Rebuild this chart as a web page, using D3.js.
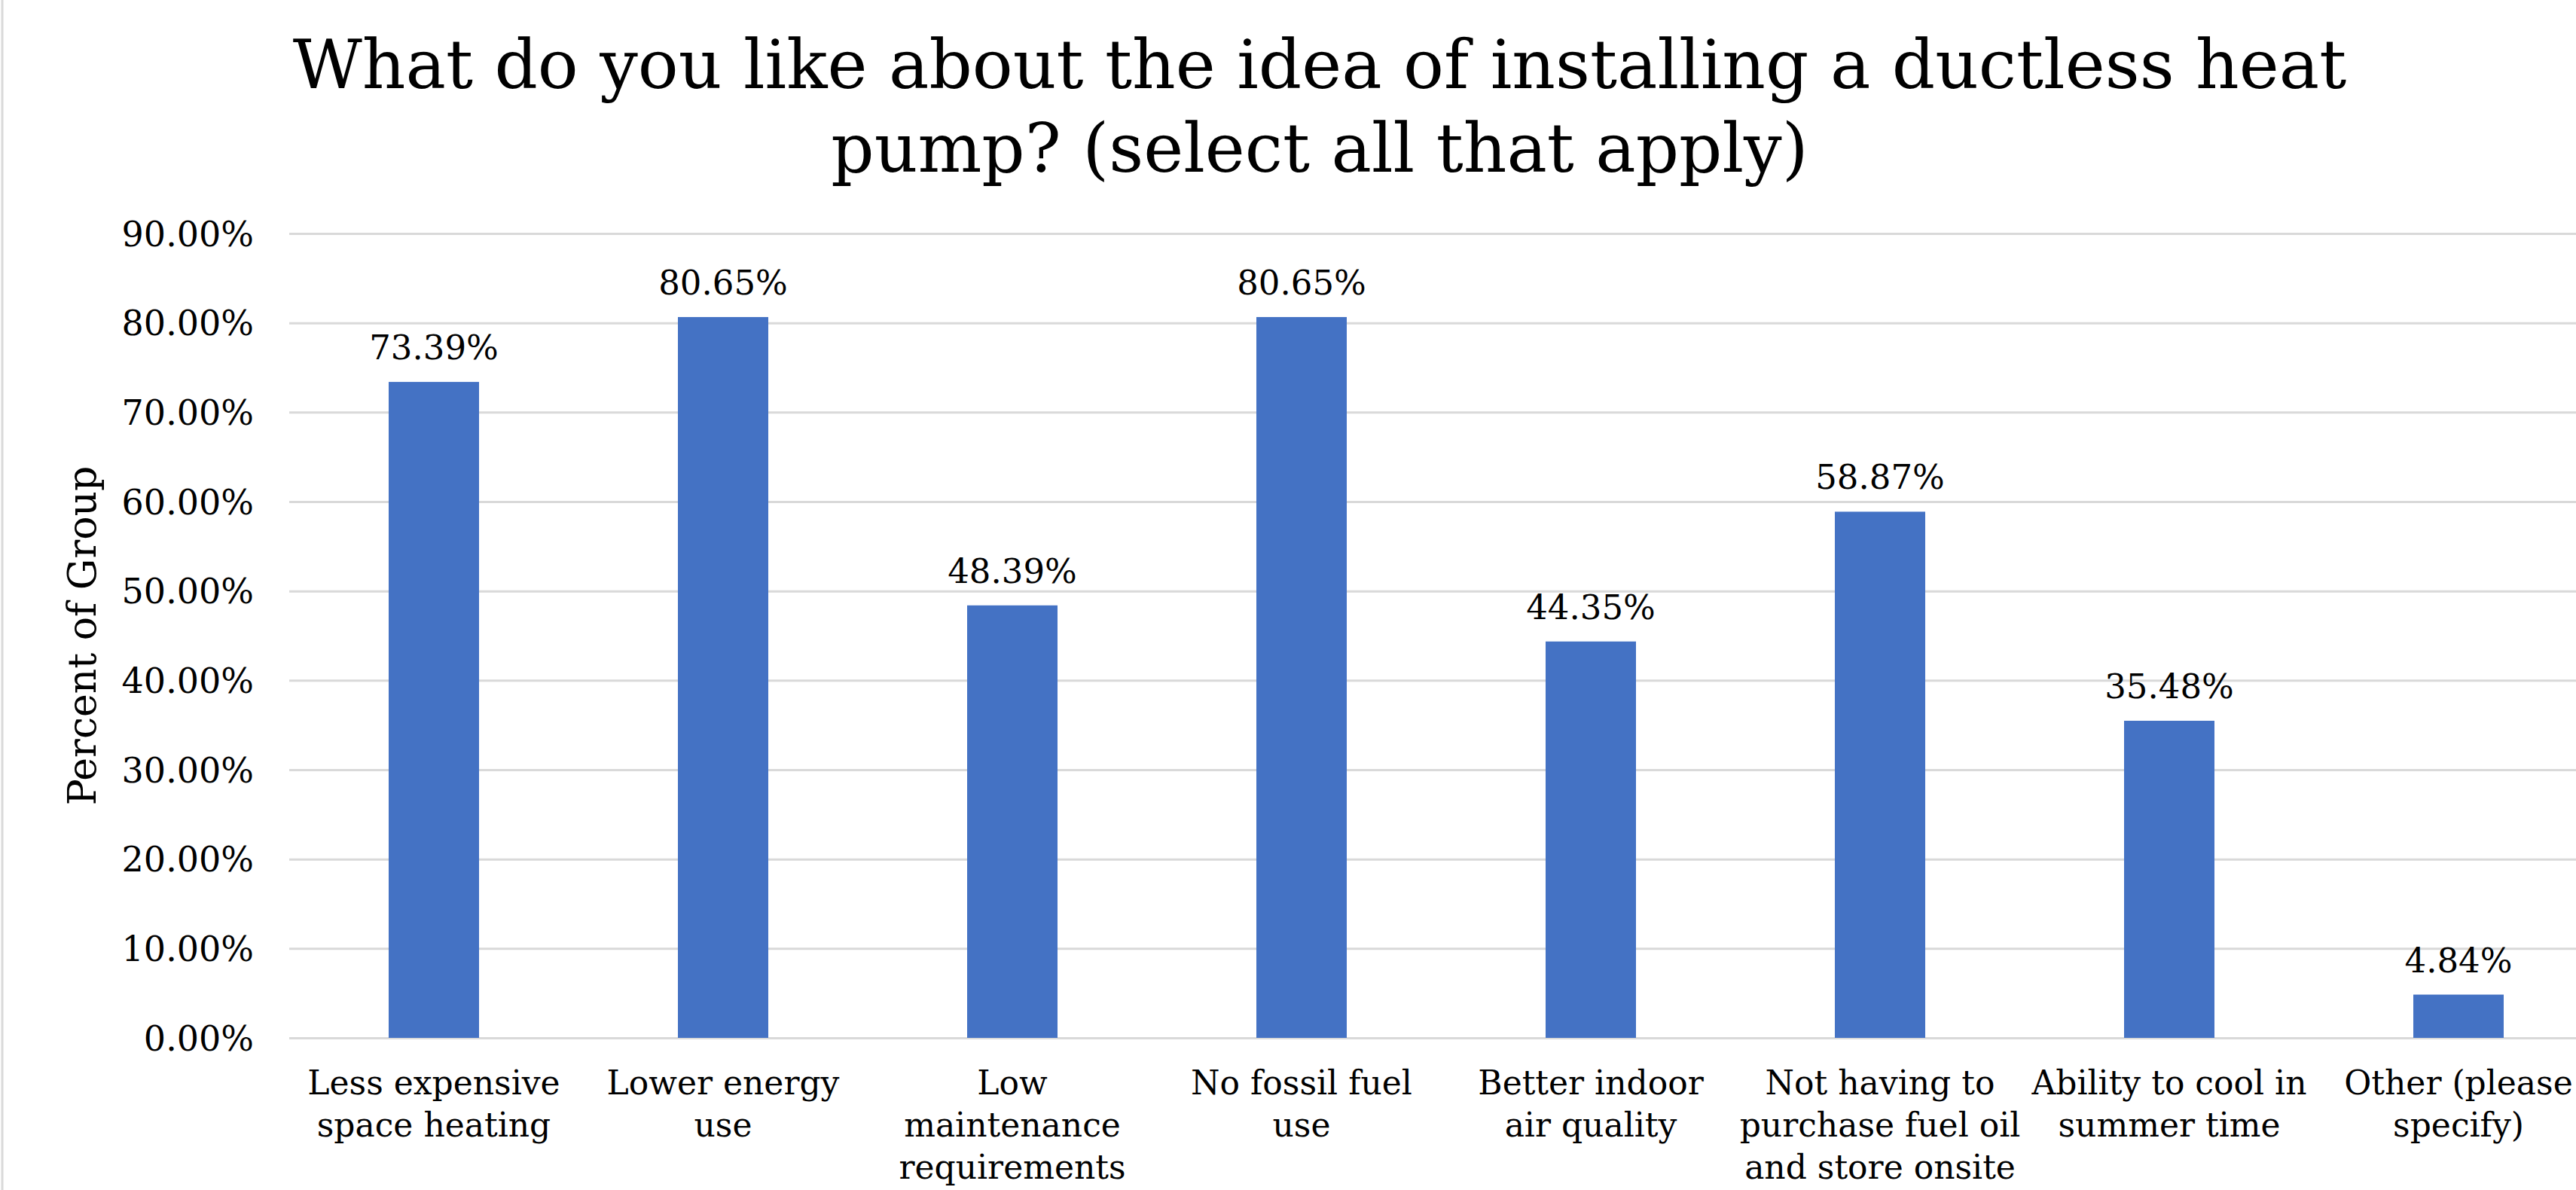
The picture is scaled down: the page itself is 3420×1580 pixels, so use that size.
<!DOCTYPE html>
<html>
<head>
<meta charset="utf-8">
<script src="https://cdn.jsdelivr.net/npm/d3@7"></script>
<style>
  html, body { margin: 0; padding: 0; background: #fff; }
  svg { display: block; }
  text { font-family: "DejaVu Serif", serif; fill: #000; }
</style>
</head>
<body>
<div id="chart"></div>
<script>
// Survey question: what respondents like about ductless heat pumps
const categories = [
    "Less expensive\nspace heating",
    "Lower energy\nuse",
    "Low\nmaintenance\nrequirements",
    "No fossil fuel\nuse",
    "Better indoor\nair quality",
    "Not having to\npurchase fuel oil\nand store onsite",
    "Ability to cool in\nsummer time",
    "Other (please\nspecify)"
];
const values = [0.7339, 0.8065, 0.4839, 0.8065, 0.4435, 0.5887, 0.3548, 0.0484];
const yTicks = [0, 0.1, 0.2, 0.3, 0.4, 0.5, 0.6, 0.7, 0.8, 0.9];
const titleLines = ["What do you like about the idea of installing a ductless heat", "pump? (select all that apply)"];
const yTitle = "Percent of Group";

const W = 3420, H = 1580;
// plot area runs a little past the right edge, as in the cropped original
const plot = { left: 384, right: 3456, top: 310, bottom: 1378 };

const svg = d3.select("#chart")
    .append("svg")
    .attr("width", W)
    .attr("height", H);

svg.append("rect").attr("width", W).attr("height", H).attr("fill", "#fff");

// left edge of the chart frame
svg.append("line")
    .attr("x1", 3).attr("x2", 3)
    .attr("y1", 0).attr("y2", H)
    .attr("stroke", "#d9d9d9")
    .attr("stroke-width", 3);

const x = d3.scaleBand()
    .domain(categories)
    .range([plot.left, plot.right])
    .paddingInner(0.6875)
    .paddingOuter(0.34375);

const y = d3.scaleLinear()
    .domain([0, 0.9])
    .range([plot.bottom, plot.top]);

const fmt = d3.format(".2%");

// gridlines + tick labels
const yAxis = d3.axisLeft(y)
    .tickValues(yTicks)
    .tickFormat(fmt)
    .tickSize(-(plot.right - plot.left))
    .tickPadding(47);

const gy = svg.append("g")
    .attr("transform", `translate(${plot.left},0)`)
    .call(yAxis);
gy.select(".domain").remove();
gy.selectAll(".tick line")
    .attr("stroke", "#d9d9d9")
    .attr("stroke-width", 3);
gy.selectAll(".tick text")
    .attr("font-size", 46)
    .attr("dy", 16)
    .attr("fill", "#000");

// bars
svg.append("g")
    .selectAll("rect")
    .data(values)
    .join("rect")
    .attr("x", (d, i) => x(categories[i]))
    .attr("y", d => y(d))
    .attr("width", x.bandwidth())
    .attr("height", d => y(0) - y(d))
    .attr("fill", "#4472c4");

// value labels
svg.append("g")
    .selectAll("text")
    .data(values)
    .join("text")
    .attr("x", (d, i) => x(categories[i]) + x.bandwidth() / 2)
    .attr("y", d => y(d) - 30)
    .attr("text-anchor", "middle")
    .attr("font-size", 45)
    .text(d => fmt(d));

// category labels, wrapped as in the original
svg.append("g")
    .selectAll("text")
    .data(categories)
    .join("text")
    .attr("text-anchor", "middle")
    .attr("font-size", 44)
    .each(function(d) {
        const cx = x(d) + x.bandwidth() / 2;
        d3.select(this).selectAll("tspan")
            .data(d.split("\n"))
            .join("tspan")
            .attr("x", cx)
            .attr("y", (t, j) => 1453 + j * 56)
            .text(t => t);
    });

// y axis title
svg.append("text")
    .attr("transform", `translate(127,${(plot.top + plot.bottom) / 2}) rotate(-90)`)
    .attr("text-anchor", "middle")
    .attr("font-size", 52)
    .text(yTitle);

// chart title
svg.append("g")
    .selectAll("text")
    .data(titleLines)
    .join("text")
    .attr("x", 1752)
    .attr("y", (d, i) => 117 + i * 111)
    .attr("text-anchor", "middle")
    .attr("font-size", 89.6)
    .text(d => d);
</script>
</body>
</html>
